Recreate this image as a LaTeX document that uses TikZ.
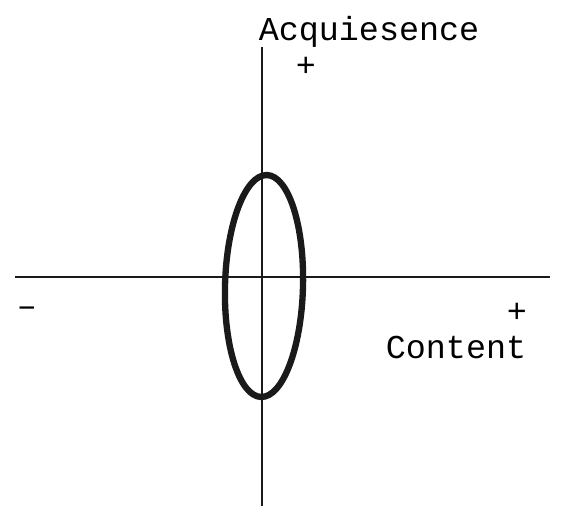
\documentclass[tikz,border=0pt]{standalone}
\usepackage{fontspec}
\setmonofont{Liberation Mono}
\usepackage{xcolor}
\definecolor{axisInk}{HTML}{1A1A1A}
\tikzset{
  axisline/.style={draw=axisInk, line width=1pt},
  ovalline/.style={draw=axisInk, line width=3.6pt},
  axislabel/.style={font=\ttfamily\fontsize{19}{22}\selectfont, inner sep=0pt}
}

\begin{document}
\begin{tikzpicture}[x=0.02cm, y=-0.02cm]
  \useasboundingbox (0,0) rectangle (571,506);
  \coordinate (vtop) at (262,47);
  \coordinate (vbot) at (262,506);
  \coordinate (hleft) at (15,277);
  \coordinate (hright) at (550,277);
  \draw[axisline] (vtop) -- (vbot);
  \draw[axisline] (hleft) -- (hright);
  \draw[ovalline, rotate around={-1.5:(264,286)}] (264,286) ellipse (39 and 111);
  \node[axislabel, anchor=base] (acq) at (369,41) {Acquiesence};
  \node[axislabel] (acqplus) at (306,67) {+};
  \node[axislabel] (conminus) at (27,312) {\textendash};
  \node[axislabel] (conplus) at (517,313) {+};
  \node[axislabel, anchor=base] (con) at (456,358) {Content};
\end{tikzpicture}
\end{document}
